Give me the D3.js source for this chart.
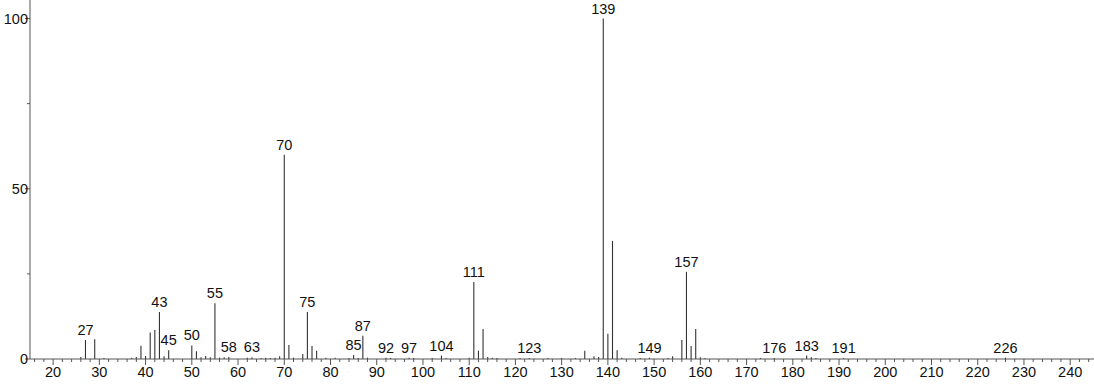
<!DOCTYPE html>
<html>
<head>
<meta charset="utf-8">
<script src="https://cdn.jsdelivr.net/npm/d3@7"></script>
<style>
  body { margin: 0; background: #fff; }
  svg { display: block; }
  text { font-family: "Liberation Sans", Arial, sans-serif; font-size: 14.5px; fill: #111; }
</style>
</head>
<body>
<svg id="chart" width="1094" height="384"></svg>
<script>
// m/z values and relative intensities
var mz = [26, 27, 29, 31, 37, 38, 39, 40, 41, 42, 43, 44, 45, 50, 51, 52, 53, 54, 55, 56, 57,
          58, 62, 63, 65, 66, 67, 68, 69, 70, 71, 72, 74, 75, 76, 77, 79, 81, 84, 85, 86,
          87, 88, 92, 93, 97, 98, 102, 104, 105, 110, 111, 112, 113, 114, 115, 116, 121, 123, 127, 130,
          133, 135, 137, 138, 139, 140, 141, 142, 143, 147, 149, 153, 154, 156, 157, 158, 159, 160, 161, 173,
          176, 183, 184, 185, 191, 226];
var intensity = [0.6, 5.6, 5.8, 0.3, 0.4, 0.6, 3.9, 0.9, 7.8, 8.5, 13.8, 0.8, 2.6, 4.0, 2.3, 0.5, 0.9, 0.5, 16.4, 0.4, 0.5,
                 0.6, 0.4, 0.5, 0.3, 0.4, 0.3, 0.4, 0.8, 60, 4.1, 0.4, 1.5, 13.8, 3.8, 2.4, 0.4, 0.4, 0.3, 1.2, 0.3,
                 6.8, 0.4, 0.4, 0.3, 0.4, 0.3, 0.3, 1.0, 0.3, 0.4, 22.6, 2.4, 8.8, 0.6, 0.4, 0.3, 0.3, 0.3, 0.3, 0.3,
                 0.3, 2.4, 0.8, 0.6, 100, 7.4, 34.7, 2.6, 0.4, 0.3, 0.4, 0.3, 0.8, 5.6, 25.6, 3.8, 8.8, 0.5, 0.3, 0.3,
                 0.3, 1.0, 0.5, 0.3, 0.3, 0.4];
var labelled = [27, 43, 45, 50, 55, 58, 63, 70, 75, 85, 87, 92, 97, 104, 111, 123, 139, 149, 157, 176, 183, 191, 226];
var xTicks = [20, 30, 40, 50, 60, 70, 80, 90, 100, 110, 120, 130, 140, 150, 160, 170, 180, 190, 200, 210, 220, 230, 240];
var yTicks = [0, 50, 100];

var svg = d3.select("#chart");
var x = d3.scaleLinear().domain([15, 245]).range([30, 1093.3]);
var y = d3.scaleLinear().domain([0, 100]).range([359, 18.5]);
var axisColor = "#555";

var peaks = mz.map(function(m, i) { return { m: m, v: intensity[i] }; });

// peaks
svg.append("g").selectAll("line.peak")
    .data(peaks)
    .enter().append("line")
    .attr("class", "peak")
    .attr("x1", function(d) { return x(d.m); })
    .attr("x2", function(d) { return x(d.m); })
    .attr("y1", y(0))
    .attr("y2", function(d) { return y(d.v); })
    .attr("stroke", "#333")
    .attr("stroke-width", 1.1);

// peak labels
svg.append("g").selectAll("text.plabel")
    .data(peaks.filter(function(d) { return labelled.indexOf(d.m) >= 0; }))
    .enter().append("text")
    .attr("class", "plabel")
    .attr("x", function(d) { return x(d.m); })
    .attr("y", function(d) { return y(d.v) - 5; })
    .attr("text-anchor", "middle")
    .text(function(d) { return d.m; });

// x axis
var gx = svg.append("g");
gx.append("line")
    .attr("x1", 30).attr("x2", 1094)
    .attr("y1", y(0)).attr("y2", y(0))
    .attr("stroke", axisColor);
gx.selectAll("line.minor")
    .data(d3.range(16, 245, 2))
    .enter().append("line")
    .attr("x1", function(d) { return x(d); })
    .attr("x2", function(d) { return x(d); })
    .attr("y1", y(0))
    .attr("y2", function(d) { return d % 10 === 0 ? y(0) + 6 : y(0) + 3; })
    .attr("stroke", axisColor);
gx.selectAll("text")
    .data(xTicks)
    .enter().append("text")
    .attr("x", function(d) { return x(d); })
    .attr("y", 377)
    .attr("text-anchor", "middle")
    .text(function(d) { return d; });

// y axis
var gy = svg.append("g");
gy.append("line")
    .attr("x1", 30).attr("x2", 30)
    .attr("y1", 0).attr("y2", y(0))
    .attr("stroke", axisColor);
gy.selectAll("line.tick")
    .data([0, 25, 50, 75, 100])
    .enter().append("line")
    .attr("x1", 30)
    .attr("x2", function(d) { return d % 50 === 0 ? 25 : 27; })
    .attr("y1", function(d) { return y(d); })
    .attr("y2", function(d) { return y(d); })
    .attr("stroke", axisColor);
gy.selectAll("text")
    .data(yTicks)
    .enter().append("text")
    .attr("x", 28)
    .attr("y", function(d) { return y(d) + 5; })
    .attr("text-anchor", "end")
    .text(function(d) { return d; });
</script>
</body>
</html>
